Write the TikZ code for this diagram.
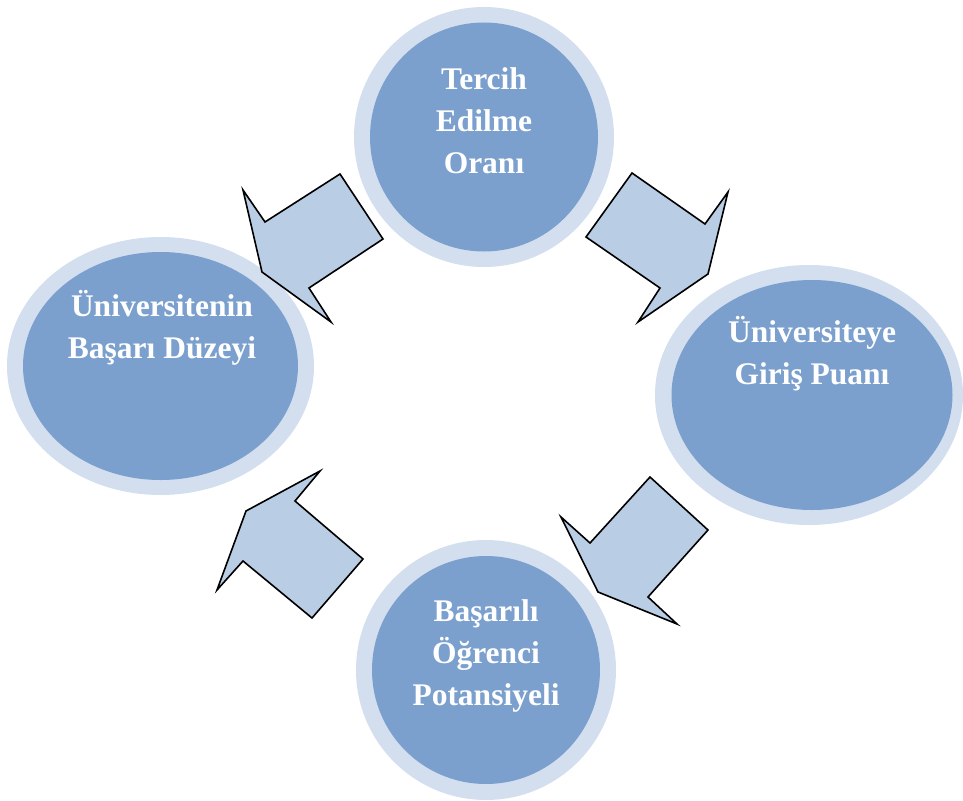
\documentclass[tikz,border=0pt]{standalone}
\usepackage{fontspec}
\setmainfont{Liberation Serif}
\usetikzlibrary{shapes.geometric}
\definecolor{ringblue}{RGB}{211,223,238}
\definecolor{coreblue}{RGB}{123,160,205}
\definecolor{arrowblue}{RGB}{185,205,229}
\begin{document}
\begin{tikzpicture}[x=1pt,y=-1pt,
  ring/.style={ellipse,draw=none,fill=ringblue,inner sep=0pt},
  core/.style={ellipse,draw=none,fill=coreblue,inner sep=0pt},
  % multi-line labels: the base anchor sits on the last line's baseline
  label/.style={text=white,align=center,anchor=base,inner sep=0pt,
    font=\bfseries\fontsize{31.5}{42}\selectfont},
  blockarrow/.style={draw=black,fill=arrowblue,line width=1.6pt,line join=miter}]
\useasboundingbox (0,0) rectangle (963,800);

% top circle
\node[ring,minimum width=260pt,minimum height=260pt] (topR) at (484,137) {};
\node[core,minimum width=228pt,minimum height=229pt] (topC) at (484,137) {};
\node[label] (topT) at (484,173) {Tercih\\Edilme\\Oranı};

% left ellipse
\node[ring,minimum width=307pt,minimum height=258pt] (leftR) at (160.5,366) {};
\node[core,minimum width=275pt,minimum height=228pt] (leftC) at (160.5,366) {};
\node[label] (leftT) at (162,358) {Üniversitenin\\Başarı Düzeyi};

% right ellipse
\node[ring,minimum width=308pt,minimum height=260pt] (rightR) at (809,395) {};
\node[core,minimum width=281pt,minimum height=230pt] (rightC) at (812,395) {};
\node[label] (rightT) at (812,384) {Üniversiteye\\Giriş Puanı};

% bottom circle
\node[ring,minimum width=260pt,minimum height=260pt] (botR) at (486,670) {};
\node[core,minimum width=228pt,minimum height=228pt] (botC) at (486,670) {};
\node[label] (botT) at (486,705) {Başarılı\\Öğrenci\\Potansiyeli};

% block arrows running around the cycle
\draw[blockarrow] (340,174) -- (383,239) -- (309,288) -- (331,322) -- (262,272)
  -- (243,190) -- (265,222) -- cycle;
\draw[blockarrow] (632,173) -- (705,224) -- (728,192) -- (708,274) -- (638,322)
  -- (660,288) -- (586,237) -- cycle;
\draw[blockarrow] (650,477) -- (708,530) -- (648,597) -- (677,624) -- (598,592)
  -- (561,517) -- (590,543) -- cycle;
\draw[blockarrow] (320,471) -- (295,501) -- (363,559) -- (312,618) -- (243,561)
  -- (217,590) -- (246,511) -- cycle;
\end{tikzpicture}
\end{document}
